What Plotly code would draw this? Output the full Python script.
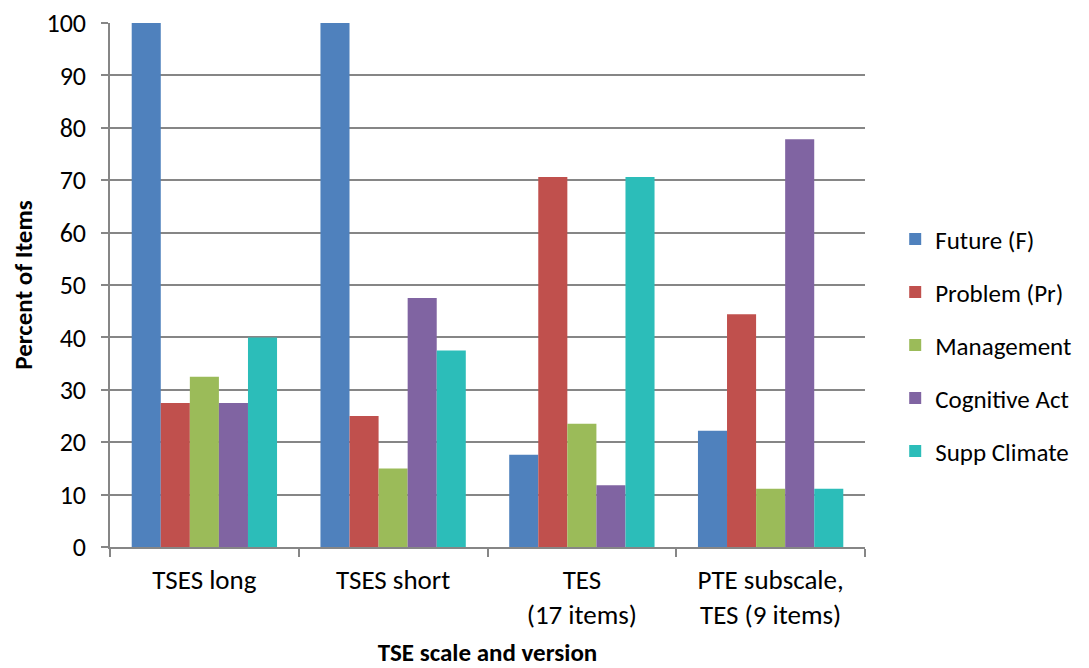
import plotly.graph_objects as go

categories = ["TSES long", "TSES short", "TES<br>(17 items)", "PTE subscale,<br>TES (9 items)"]
series_names = ["Future (F)", "Problem (Pr)", "Management", "Cognitive Act", "Supp Climate"]
future = [100, 100, 17.6, 22.2]
problem = [27.5, 25, 70.6, 44.4]
management = [32.5, 15, 23.5, 11.1]
cognitive = [27.5, 47.5, 11.8, 77.8]
supp_climate = [40, 37.5, 70.6, 11.1]
colors = ["#4F81BD", "#C0504D", "#9BBB59", "#8064A2", "#2CBDB9"]
y_ticks = list(range(0, 101, 10))

fig = go.Figure()
for i, (name, vals) in enumerate(zip(series_names, [future, problem, management, cognitive, supp_climate])):
    fig.add_trace(go.Bar(x=categories, y=vals, name=name, marker_color=colors[i],
                         marker_line_width=0, legendgroup=f"g{i}"))

font_family = "Carlito, Calibri, Lato, 'Open Sans', sans-serif"
fig.update_layout(
    width=1081, height=660,
    margin=dict(l=102, r=224, t=15, b=121),
    paper_bgcolor="white", plot_bgcolor="white",
    barmode="group", bargap=0.23, bargroupgap=0,
    font=dict(family=font_family, size=26, color="black"),
    legend=dict(x=1.04, xanchor="left", y=0.385, yanchor="middle", traceorder="grouped",
                tracegroupgap=17.5, font=dict(size=25), itemwidth=30,
                bgcolor="rgba(0,0,0,0)"),
    xaxis=dict(showline=True, linecolor="#868686", linewidth=1.5, automargin=False,
               ticks="outside", tickson="boundaries", ticklen=8, tickcolor="#868686", tickwidth=1.5,
               ticklabelstandoff=8,
               title=dict(text="<b>TSE scale and version</b>", font=dict(size=25), standoff=16),
               tickfont=dict(size=27)),
    yaxis=dict(range=[0, 100], tickvals=y_ticks, showgrid=True, gridcolor="#868686", gridwidth=1.5,
               showline=True, linecolor="#868686", linewidth=1.5, automargin=False,
               ticks="outside", ticklen=7, tickcolor="#868686", tickwidth=1.5,
               ticklabelstandoff=10, ticklabeloverflow="allow",
               title=dict(text="<b>Percent of Items</b>", font=dict(size=25), standoff=20),
               tickfont=dict(size=26), zeroline=False),
)
fig.write_html("out.html")
